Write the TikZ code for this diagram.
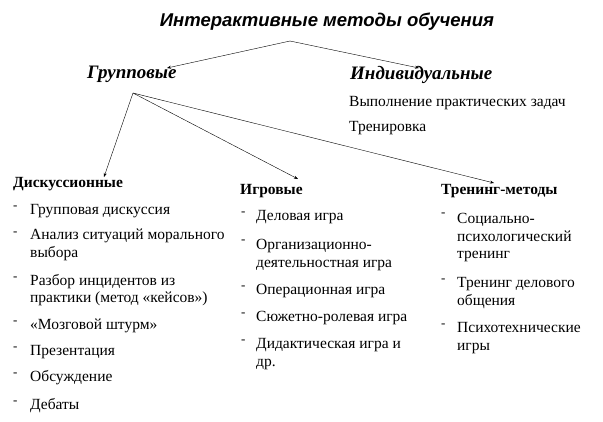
\documentclass[tikz,border=0pt]{standalone}
\usepackage{fontspec}
\setmainfont{Liberation Serif}
\newfontfamily\hsans{Liberation Sans}
\usetikzlibrary{arrows.meta}
\begin{document}
\begin{tikzpicture}[x=1pt,y=-1pt,
  txt/.style={anchor=west,inner sep=0pt,font=\fontsize{15.5}{17.5}\selectfont,align=left},
  hdr/.style={anchor=west,inner sep=0pt,font=\fontsize{15.5}{17}\selectfont\bfseries},
  bul/.style={anchor=west,inner sep=0pt,font=\fontsize{13}{14}\selectfont},
  conn/.style={draw,thin,-{Stealth[length=4pt,width=3pt]}}]
\useasboundingbox (0,0) rectangle (603,421);
\node[inner sep=0pt,font=\fontsize{18.5}{20}\selectfont\hsans\itshape\bfseries] (title) at (327,22) {Интерактивные методы обучения};
\coordinate (top) at (290,41);
\node[anchor=west,inner sep=0pt,font=\fontsize{19}{20}\selectfont\bfseries\itshape] (grp) at (87,74) {Групповые};
\node[anchor=west,inner sep=0pt,font=\fontsize{19}{20}\selectfont\bfseries\itshape] (ind) at (350,75) {Индивидуальные};
\coordinate (ga) at (167,68);
\coordinate (ia) at (419,68);
\draw[conn] (top) -- (ga);
\draw[conn] (top) -- (ia);
\node[txt] (i1) at (349,103) {Выполнение практических задач};
\node[txt] (i2) at (349,128) {Тренировка};
\coordinate (br) at (133,93);
\coordinate (d) at (104,177);
\coordinate (g) at (298,179);
\coordinate (t) at (494,183);
\draw[conn] (br) -- (d);
\draw[conn] (br) -- (g);
\draw[conn] (br) -- (t);
% column 1
\node[hdr] (dh) at (13,184) {Дискуссионные};
\foreach \y/\t [count=\i] in {211/{Групповая дискуссия},245/{Анализ ситуаций морального\\выбора},290/{Разбор инцидентов из\\практики (метод «кейсов»)},326/{«Мозговой штурм»},352/{Презентация},378/{Обсуждение},406/{Дебаты}}{
  \node[txt] (d\i) at (30,\y) {\t};
}
\foreach \y in {208,234,279,323,349,375,403}{\node[bul] at (13,\y) {-};}
% column 2
\node[hdr] (gh) at (240,191) {Игровые};
\foreach \y/\t [count=\i] in {217/{Деловая игра},255/{Организационно-\\деятельностная игра},291/{Операционная игра},318/{Сюжетно-ролевая игра},354/{Дидактическая игра и\\др.}}{
  \node[txt] (g\i) at (256,\y) {\t};
}
\foreach \y in {214,242,288,315,342}{\node[bul] at (241,\y) {-};}
% column 3
\node[hdr] (th) at (441,191) {Тренинг-методы};
\foreach \y/\t [count=\i] in {238/{Социально-\\психологический\\тренинг},293/{Тренинг делового\\общения},338/{Психотехнические\\игры}}{
  \node[txt] (t\i) at (457,\y) {\t};
}
\foreach \y in {215,281,326}{\node[bul] at (441,\y) {-};}
\end{tikzpicture}
\end{document}
